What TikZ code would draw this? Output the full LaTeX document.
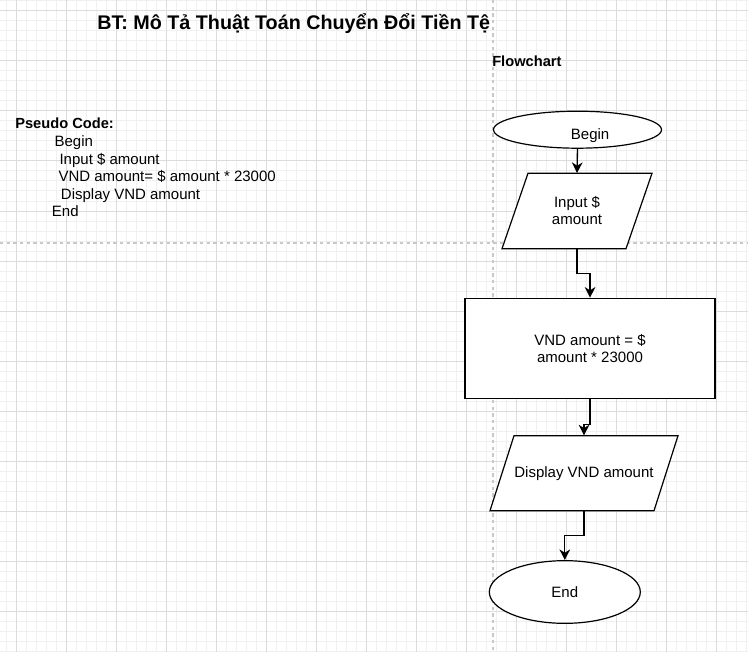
\documentclass[tikz,border=0pt]{standalone}
\usepackage{fontspec}
\setmainfont{Liberation Sans}
\usetikzlibrary{shapes.geometric,arrows.meta,calc}
\newcommand\bodyfont{\fontsize{11.25pt}{12.75pt}\selectfont}
\newcommand\headfont{\bfseries\fontsize{11pt}{13pt}\selectfont}
\begin{document}
\begin{tikzpicture}[x=0.75pt,y=-0.75pt,
  minorgrid/.style={draw={rgb,255:red,240;green,240;blue,240},line width=0.75pt},
  majorgrid/.style={draw={rgb,255:red,220;green,220;blue,220},line width=0.75pt},
  pageline/.style={draw={rgb,255:red,200;green,200;blue,200},line width=0.9pt,dash pattern=on 2.5pt off 2.5pt},
  shapebox/.style={draw=black,line width=0.9pt,fill=white,inner sep=0pt,align=center,font=\bodyfont},
  term/.style={shapebox,ellipse},
  proc/.style={shapebox,rectangle},
  iotext/.style={rectangle,inner sep=0pt,align=center,font=\bodyfont},
  parabox/.style={draw=black,line width=0.9pt,fill=white,line join=miter},
  plain/.style={anchor=base west,inner sep=0pt,font=\bodyfont},
  heading/.style={anchor=base west,inner sep=0pt,font=\headfont},
  flow/.style={line width=1pt,-{Stealth[length=8pt,width=8pt,inset=2.5pt]}}
]
\useasboundingbox (0,0) rectangle (748,652);
\fill[white] (0,0) rectangle (748,652);
% grid
\foreach \x in {6,16,...,746} \draw[minorgrid] (\x,0) -- (\x,652);
\foreach \y in {1,11,...,651} \draw[minorgrid] (0,\y) -- (748,\y);
\foreach \x in {16,66,...,716} \draw[majorgrid] (\x,0) -- (\x,652);
\foreach \y in {11,61,...,611} \draw[majorgrid] (0,\y) -- (748,\y);
% page break lines
\draw[pageline] (493,0) -- (493,652);
\draw[pageline] (0,243) -- (748,243);

% texts
\node[anchor=base west,inner sep=0pt,font=\bfseries\fontsize{14.8pt}{17pt}\selectfont] (title) at (97,30) {BT: Mô Tả Thuật Toán Chuyển Đổi Tiền Tệ};
\node[heading] (fchead) at (492,66.7) {Flowchart};
\node[heading] (pchead) at (15,128.7) {Pseudo Code:};
\node[plain] (pc1) at (54.3,146.7) {Begin};
\node[plain] (pc2) at (59.3,164.2) {Input \$ amount};
\node[plain] (pc3) at (58.3,181.7) {VND amount= \$ amount * 23000};
\node[plain] (pc4) at (60.7,199.2) {Display VND amount};
\node[plain] (pc5) at (51.7,216.7) {End};

% flowchart
\node[term,minimum width=126pt,minimum height=27.75pt] (begin) at (577.5,129.7) {};
\node[plain] (begintext) at (570.7,139.3) {Begin};

\coordinate (ioA) at (577,211);
\draw[parabox] ($(ioA)+(-49,-37.7)$) -- ($(ioA)+(75,-37.7)$) -- ($(ioA)+(49,37.7)$) -- ($(ioA)+(-75,37.7)$) -- cycle;
\node[iotext,minimum width=112.5pt,minimum height=56.55pt] (input) at (ioA) {Input \$\\amount};

\node[proc,minimum width=187.5pt,minimum height=75pt] (calc) at (590,348.3) {VND amount = \$\\amount * 23000};

\coordinate (ioB) at (584,473.2);
\draw[parabox] ($(ioB)+(-70,-37.5)$) -- ($(ioB)+(94,-37.5)$) -- ($(ioB)+(70,37.5)$) -- ($(ioB)+(-94,37.5)$) -- cycle;
\node[iotext,minimum width=141pt,minimum height=56.25pt] (display) at (ioB) {Display VND amount};

\node[term,minimum width=113.25pt,minimum height=47pt] (end) at (564.8,592) {End};

% connectors
\draw[flow] (begin.south) -- (input.north);
\draw[flow] (input.south) |- ($(input.south)!0.5!(calc.north)$) -| (calc.north);
\draw[flow] (calc.south) -- ++(0,25.7) -| (display.north);
\draw[flow] (display.south) |- ($(display.south)!0.5!(end.north)$) -| (end.north);
\end{tikzpicture}
\end{document}
